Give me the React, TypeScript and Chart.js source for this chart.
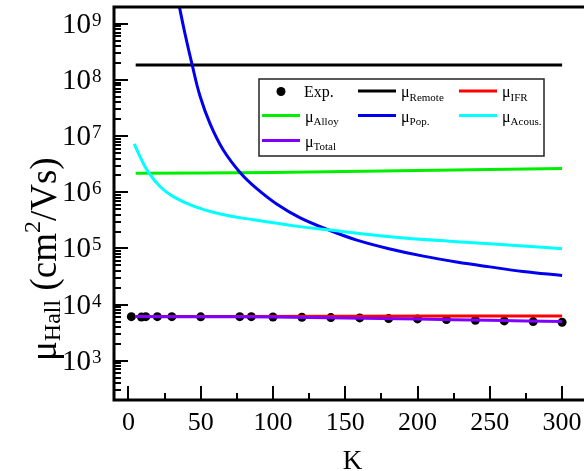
import React, { useEffect, useRef } from "react";
import { Chart, registerables } from "chart.js";

Chart.register(...registerables);

// ---------- data ----------
const expT = [2, 9, 12, 20, 30, 50, 77, 85, 100, 120, 140, 160, 180, 200, 220, 240, 260, 280, 300];
const expMu = [6100, 6000, 6100, 6100, 6100, 6050, 6100, 6100, 6030, 5950, 5870, 5790, 5630, 5560, 5410, 5260, 5120, 4980, 4850];

const remoteT = [5, 300];
const remoteMu = [1.86e8, 1.86e8];

const ifrT = [5, 150, 300];
const ifrMu = [6150, 6200, 6280];

const alloyT = [5, 100, 200, 300];
const alloyMu = [2.19e6, 2.26e6, 2.45e6, 2.66e6];

const popT = [34.5, 39, 44, 49.5, 56.5, 65.5, 78, 89, 102.5, 118.5, 139.5, 158, 181, 204, 227, 250, 273, 300];
const popMu = [2.5e9, 6.9e8, 1.9e8, 5.2e7, 1.66e7, 5.75e6, 2.14e6, 1.15e6, 6.2e5, 3.55e5, 2.09e5, 1.41e5, 9.8e4, 7.3e4, 5.75e4, 4.7e4, 3.9e4, 3.3e4];

const acT = [4, 8, 13.5, 22, 31, 45, 63.5, 86.5, 118.5, 139.5, 181, 227, 273, 300];
const acMu = [7.28e6, 4.32e6, 2.34e6, 1.26e6, 8.4e5, 5.7e5, 4.1e5, 3.24e5, 2.45e5, 2.14e5, 1.62e5, 1.32e5, 1.11e5, 9.9e4];

const totalT = [5, 50, 100, 150, 200, 250, 300];
const totalMu = [6120, 6080, 6000, 5800, 5550, 5250, 4980];

// ---------- axes / labels ----------
const xMin = -10;
const xMax = 320;
const yMin = 200;
const yMax = 2e9;
const xMajorTicks = [0, 50, 100, 150, 200, 250, 300];
const xMinorTicks = [25, 75, 125, 175, 225, 275];
const yTickExponents = [3, 4, 5, 6, 7, 8, 9];
const yTickBase = "10";
const xTitle = "K";
const yTitleParts = ["μ", "Hall", " (cm", "2", "/Vs)"];

const legendNames = ["Exp.", "Remote", "IFR", "Alloy", "Pop.", "Acous.", "Total"];
const legendColors = ["#000000", "#000000", "#ff0000", "#00ee00", "#0000ee", "#00ffff", "#8000ff"];

const FONT = '"Liberation Serif", "Times New Roman", Times, serif';

function pts(xs: number[], ys: number[]) {
  return xs.map((x, i) => ({ x, y: ys[i] }));
}

const decorPlugin = {
  id: "decor",
  afterDraw(chart: any) {
    const { ctx, chartArea: a, scales } = chart;
    const xs = scales.x;
    const ys = scales.y;
    ctx.save();
    ctx.strokeStyle = "#000";
    ctx.fillStyle = "#000";
    ctx.lineCap = "butt";

    const line = (x1: number, y1: number, x2: number, y2: number) => {
      ctx.beginPath();
      ctx.moveTo(x1, y1);
      ctx.lineTo(x2, y2);
      ctx.stroke();
    };

    // y ticks (inward)
    ctx.lineWidth = 2;
    for (let d = 2; d <= 9; d++) {
      for (let m = 1; m <= 9; m++) {
        const v = m * Math.pow(10, d);
        if (v < yMin || v > yMax) continue;
        const py = Math.round(ys.getPixelForValue(v));
        const len = m === 1 ? 14 : 7;
        line(a.left, py, a.left + len, py);
      }
    }
    // x ticks (inward)
    for (const v of xMajorTicks) {
      const px = Math.round(xs.getPixelForValue(v));
      line(px, a.bottom, px, a.bottom - 14);
    }
    for (const v of xMinorTicks) {
      const px = Math.round(xs.getPixelForValue(v));
      line(px, a.bottom, px, a.bottom - 7);
    }

    // frame
    ctx.lineWidth = 3;
    ctx.beginPath();
    ctx.moveTo(a.right, a.top);
    ctx.lineTo(a.left, a.top);
    ctx.lineTo(a.left, a.bottom);
    ctx.lineTo(a.right, a.bottom);
    ctx.stroke();

    // x tick labels
    ctx.font = `26px ${FONT}`;
    ctx.textAlign = "center";
    ctx.textBaseline = "alphabetic";
    for (const v of xMajorTicks) {
      const px = xs.getPixelForValue(v);
      ctx.fillText(String(v), px, 430);
    }
    // x title
    ctx.font = `27px ${FONT}`;
    ctx.fillText(xTitle, (a.left + a.right) / 2, 469);

    // y tick labels with superscripts
    for (const e of yTickExponents) {
      const py = ys.getPixelForValue(Math.pow(10, e));
      ctx.font = `29px ${FONT}`;
      ctx.textAlign = "right";
      ctx.fillText(yTickBase, 91, py + 9);
      ctx.font = `19px ${FONT}`;
      ctx.textAlign = "left";
      ctx.fillText(String(e), 92, py + 2);
    }

    // y title (rotated, with subscript and superscript)
    ctx.save();
    ctx.translate(56, 361);
    ctx.rotate(-Math.PI / 2);
    ctx.textAlign = "left";
    let tx = 0;
    const big = `37px ${FONT}`;
    const small = `24px ${FONT}`;
    const offsets = [0, 4, 0, -16, 0];
    yTitleParts.forEach((t, i) => {
      ctx.font = i === 1 || i === 3 ? small : big;
      ctx.fillText(t, tx, offsets[i]);
      tx += ctx.measureText(t).width;
    });
    ctx.restore();

    // legend
    const bx = 259, by = 79, bw = 285, bh = 77;
    ctx.fillStyle = "#fff";
    ctx.fillRect(bx, by, bw, bh);
    ctx.strokeStyle = "#222";
    ctx.lineWidth = 1.5;
    ctx.strokeRect(bx, by, bw, bh);
    const colLine = [262, 358, 459];
    const rowY = [91, 115.5, 140.5];
    legendNames.forEach((name, i) => {
      const r = Math.floor(i / 3);
      const c = i % 3;
      const x0 = colLine[c];
      const y0 = rowY[r];
      ctx.fillStyle = legendColors[i];
      ctx.strokeStyle = legendColors[i];
      if (i === 0) {
        ctx.beginPath();
        ctx.arc(x0 + 19, y0 + 0.5, 4.5, 0, Math.PI * 2);
        ctx.fill();
        ctx.fillStyle = "#000";
        ctx.font = `16px ${FONT}`;
        ctx.textAlign = "left";
        ctx.fillText(name, x0 + 42, y0 + 6);
      } else {
        ctx.lineWidth = 3;
        line(x0, y0, x0 + 38, y0);
        ctx.fillStyle = "#000";
        ctx.font = `16px ${FONT}`;
        ctx.textAlign = "left";
        const tx0 = x0 + 43;
        ctx.fillText("μ", tx0, y0 + 6);
        const w = ctx.measureText("μ").width;
        ctx.font = `11px ${FONT}`;
        ctx.fillText(name, tx0 + w, y0 + 9.5);
      }
    });

    ctx.restore();
  },
};

export default function App() {
  const ref = useRef<HTMLCanvasElement | null>(null);

  useEffect(() => {
    if (!ref.current) return;
    const lineDs = (label: string, xs: number[], ys: number[], color: string, order: number) => ({
      label,
      data: pts(xs, ys),
      borderColor: color,
      backgroundColor: color,
      borderWidth: 3,
      pointRadius: 0,
      fill: false,
      tension: 0.4,
      order,
    });
    const chart = new Chart(ref.current, {
      type: "line",
      data: {
        datasets: [
          {
            label: "Exp.",
            data: pts(expT, expMu),
            showLine: false,
            pointRadius: 4.5,
            pointBorderWidth: 0,
            pointBackgroundColor: "#000",
            pointBorderColor: "#000",
            borderColor: "#000",
            order: 6,
          },
          lineDs("Remote", remoteT, remoteMu, legendColors[1], 5),
          lineDs("IFR", ifrT, ifrMu, legendColors[2], 4),
          lineDs("Alloy", alloyT, alloyMu, legendColors[3], 3),
          lineDs("Pop.", popT, popMu, legendColors[4], 2),
          lineDs("Acous.", acT, acMu, legendColors[5], 1),
          lineDs("Total", totalT, totalMu, legendColors[6], 0),
        ] as any,
      },
      options: {
        animation: false,
        responsive: false,
        devicePixelRatio: 1,
        events: [],
        layout: { padding: { left: 114, right: 9, top: 7, bottom: 71 } },
        plugins: { legend: { display: false }, tooltip: { enabled: false } },
        scales: {
          x: { type: "linear", min: xMin, max: xMax, display: false },
          y: { type: "logarithmic", min: yMin, max: yMax, display: false },
        },
      },
      plugins: [decorPlugin],
    });
    return () => chart.destroy();
  }, []);

  return (
    <div
      style={{
        position: "fixed",
        left: 0,
        top: 0,
        width: 584,
        height: 471,
        overflow: "hidden",
        background: "#fff",
      }}
    >
      <canvas ref={ref} width={600} height={471} style={{ width: 600, height: 471, display: "block" }} />
    </div>
  );
}
